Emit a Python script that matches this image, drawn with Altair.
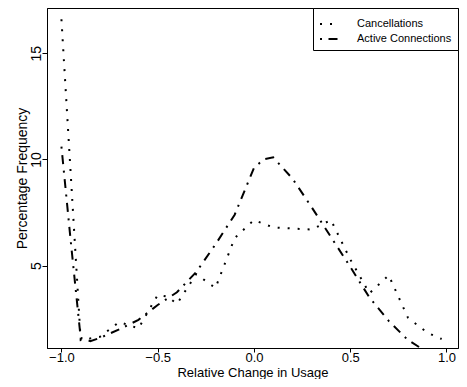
import altair as alt
import pandas as pd

series_names = ["Cancellations", "Active Connections"]

canc_x = [-1.0, -0.9, -0.8, -0.7, -0.6, -0.5, -0.45, -0.4, -0.3, -0.2, -0.1, 0.0,
          0.1, 0.2, 0.3, 0.4, 0.5, 0.6, 0.7, 0.8, 0.9, 0.975]
canc_y = [16.6, 1.5, 1.65, 2.35, 2.05, 3.62, 3.55, 3.2, 4.6, 3.95, 6.3, 7.15,
          6.8, 6.75, 6.7, 7.15, 5.3, 3.7, 4.55, 2.55, 1.85, 1.55]

act_x = [-1.0, -0.95, -0.9, -0.85, -0.8, -0.7, -0.6, -0.5, -0.4, -0.3, -0.2, -0.1,
         0.0, 0.05, 0.1, 0.2, 0.3, 0.4, 0.5, 0.6, 0.7, 0.8, 0.9, 0.975]
act_y = [10.6, 6.0, 1.6, 1.45, 1.6, 2.0, 2.45, 3.15, 3.75, 4.7, 6.0, 7.4,
         9.6, 10.0, 10.1, 9.1, 7.75, 6.35, 4.95, 3.5, 2.4, 1.5, 0.93, 0.55]

x_ticks = [-1.0, -0.5, 0.0, 0.5, 1.0]
y_ticks = [5, 10, 15]

df = pd.concat([
    pd.DataFrame({"x": canc_x, "y": canc_y, "series": series_names[0], "ord": range(len(canc_x))}),
    pd.DataFrame({"x": act_x, "y": act_y, "series": series_names[1], "ord": range(len(act_x))}),
])

FONT = "Liberation Sans"

chart = alt.Chart(df).mark_line(
    color="black", strokeWidth=2, clip=True, strokeCap="butt"
).encode(
    x=alt.X("x:Q",
            scale=alt.Scale(domain=[-1.075, 1.06], nice=False, zero=False),
            axis=alt.Axis(values=x_ticks, format=".1f", title="Relative Change in Usage",
                          tickSize=4, labelFontSize=13, labelBaseline="alphabetic",
                          labelPadding=9.5, titleFontSize=13,
                          titleY=28, titleBaseline="alphabetic")),
    y=alt.Y("y:Q",
            scale=alt.Scale(domain=[1.125, 17.13], nice=False, zero=False),
            axis=alt.Axis(values=y_ticks, format="d", title="Percentage Frequency",
                          labelAngle=270, labelAlign="center", labelBaseline="alphabetic",
                          labelPadding=2, titleX=-21, titleBaseline="alphabetic")),
    strokeDash=alt.StrokeDash("series:N",
                              scale=alt.Scale(domain=series_names,
                                              range=[[2, 8], [2, 6.5, 9, 6.5]]),
                              legend=alt.Legend(title=None, orient="top-right", offset=0,
                                                strokeColor="black", fillColor="white",
                                                padding=6, cornerRadius=0,
                                                symbolType="stroke", symbolSize=324,
                                                symbolStrokeWidth=2, symbolStrokeColor="black",
                                                labelFont=FONT, labelFontSize=11,
                                                labelColor="black", labelOffset=18,
                                                rowPadding=-6)),
    order="ord:Q",
).properties(
    width=411, height=340,
    padding={"left": 39, "top": 0, "right": 1, "bottom": 31},
    autosize=alt.AutoSizeParams(type="none"),
).configure_view(
    stroke="black", strokeWidth=1
).configure_axis(
    grid=False, domainColor="black", tickColor="black", tickSize=5,
    labelColor="black", titleColor="black", labelFont=FONT, titleFont=FONT,
    labelFontSize=14, titleFontSize=14, titleFontWeight="normal",
)

chart.save("out.html", embed_options={"renderer": "svg", "actions": False})
